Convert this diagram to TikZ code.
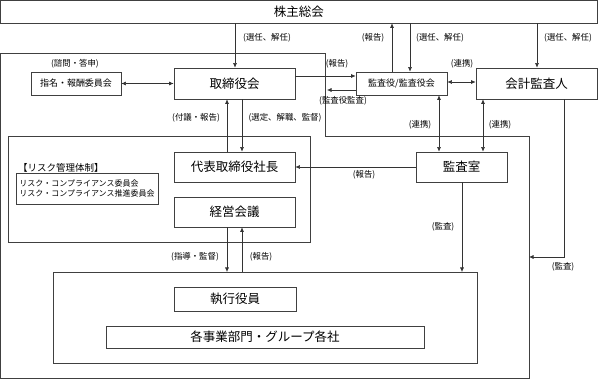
\documentclass[tikz,border=0pt]{standalone}
\usepackage{fontspec}
\setmainfont{Noto Sans CJK JP}
\usetikzlibrary{arrows.meta}
\tikzset{
  box/.style={draw=black!75, line width=0.7pt, inner sep=0pt, align=center},
  big/.style={font=\fontsize{12.5}{14}\selectfont},
  mid/.style={font=\fontsize{9}{10}\selectfont},
  lbl/.style={inner sep=0pt, font=\fontsize{8.4}{9}\selectfont},
  conn/.style={draw=black!80, line width=0.6pt},
  arr/.style={conn, -{Latex[length=4.5pt,width=4pt]}},
  darr/.style={conn, {Latex[length=4.5pt,width=4pt]}-{Latex[length=4.5pt,width=4pt]}},
  frame/.style={draw=black!75, line width=0.7pt}
}
\begin{document}
\begin{tikzpicture}[x=1pt,y=-1pt]
\useasboundingbox (0,0) rectangle (598,379);
% frames
\draw[frame] (0.5,53) -- (325,53) -- (325,136) -- (529,136) -- (529,378) -- (0.5,378) -- cycle;
\draw[frame] (8,136) rectangle (310,242);
\draw[frame] (53,272) rectangle (477,363);
% boxes
\node[box,big,minimum width=596.5pt,minimum height=22.5pt] (kabu) at (298.75,11.75) {株主総会};
\node[box,big,minimum width=121pt,minimum height=31pt] (tori) at (234.5,83.5) {取締役会};
\node[box,mid,minimum width=90pt,minimum height=23pt] (shimei) at (76,83.5) {指名・報酬委員会};
\node[box,mid,minimum width=91pt,minimum height=23pt] (kansayaku) at (401.5,83.5) {監査役/監査役会};
\node[box,big,minimum width=121pt,minimum height=31pt] (kaikei) at (536.5,83.5) {会計監査人};
\node[box,big,minimum width=121pt,minimum height=30pt] (daihyo) at (234.5,167) {代表取締役社長};
\node[box,big,minimum width=121pt,minimum height=30pt] (keiei) at (234.5,212) {経営会議};
\node[box,big,minimum width=91pt,minimum height=30pt] (shitsu) at (461.5,167) {監査室};
\node[box,big,minimum width=122pt,minimum height=24pt] (shikko) at (235,299) {執行役員};
\node[box,big,minimum width=318pt,minimum height=22pt] (jigyo) at (265,337) {各事業部門・グループ各社};
\node[box,minimum width=142pt,minimum height=31pt,align=left,font=\fontsize{8}{10.5}\selectfont] (risk) at (87,188.5) {リスク・コンプライアンス委員会\\リスク・コンプライアンス推進委員会};
\node[anchor=west,inner sep=0pt,font=\fontsize{9.5}{11}\selectfont] (risktitle) at (18,168) {【リスク管理体制】};
% coordinates
\coordinate (execTopA) at (227,272);
\coordinate (execTopB) at (242,272);
\coordinate (execTopC) at (462,272);
\coordinate (outerA) at (327,90);
\coordinate (outerB) at (529,257);
\coordinate (bendK) at (564,257);
% connectors
\draw[arr] (kabu.south -| 235,0) -- (tori.north -| 235,0);
\node[lbl] (l1) at (267,38) {(選任、解任)};
\draw[darr] (shimei.east) -- (tori.west);
\node[lbl] (l2) at (75,64) {(諮問・答申)};
\draw[arr] (tori.east |- 0,76) -- (kansayaku.west |- 0,76);
\node[lbl] (l3) at (337,64) {(報告)};
\draw[arr] (kansayaku.west |- 0,90) -- (outerA);
\node[lbl] (l4) at (343,101) {(監査役監査)};
\draw[arr] (kansayaku.north -| 392,0) -- (kabu.south -| 392,0);
\node[lbl] (l5) at (373,38) {(報告)};
\draw[arr] (kabu.south -| 410,0) -- (kansayaku.north -| 410,0);
\node[lbl] (l6) at (440,38) {(選任、解任)};
\draw[arr] (kabu.south -| 537,0) -- (kaikei.north -| 537,0);
\node[lbl] (l7) at (568,38) {(選任、解任)};
\draw[darr] (kansayaku.east |- 0,82) -- (kaikei.west |- 0,82);
\node[lbl] (l8) at (462,64) {(連携)};
\draw[darr] (kansayaku.south -| 439,0) -- (shitsu.north -| 439,0);
\node[lbl] (l9) at (420,125) {(連携)};
\draw[darr] (kaikei.south -| 483,0) -- (shitsu.north -| 483,0);
\node[lbl] (l10) at (500,125) {(連携)};
\draw[arr] (kaikei.south -| 564,0) -- (bendK) -- (outerB);
\node[lbl] (l11) at (563,267) {(監査)};
\draw[arr] (shitsu.west) -- (daihyo.east);
\node[lbl] (l12) at (364,175) {(報告)};
\draw[arr] (shitsu.south -| 462,0) -- (execTopC);
\node[lbl] (l13) at (443,227) {(監査)};
\draw[arr] (tori.south -| 242,0) -- (daihyo.north -| 242,0);
\node[lbl] (l14) at (285,118) {(選定、解職、監督)};
\draw[arr] (daihyo.north -| 227,0) -- (tori.south -| 227,0);
\node[lbl] (l15) at (196,118) {(付議・報告)};
\draw[arr] (keiei.south -| 227,0) -- (execTopA);
\node[lbl] (l16) at (195,257) {(指導・監督)};
\draw[arr] (execTopB) -- (keiei.south -| 242,0);
\node[lbl] (l17) at (261,257) {(報告)};
\end{tikzpicture}
\end{document}
